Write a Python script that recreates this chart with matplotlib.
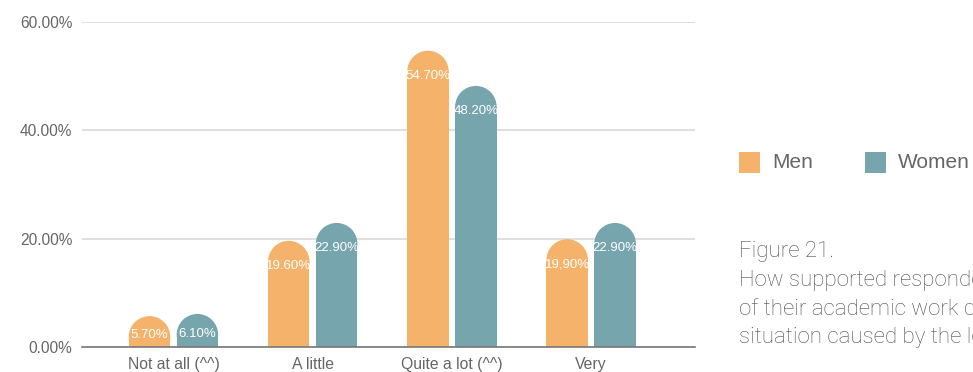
import matplotlib
matplotlib.use("Agg")
import matplotlib.pyplot as plt
from matplotlib.patches import Rectangle, Ellipse
import numpy as np

categories = ["Not at all (^^)", "A little", "Quite a lot (^^)", "Very"]
men = [5.7, 19.6, 54.7, 19.9]
women = [6.1, 22.9, 48.2, 22.9]
men_labels = ["5.70%", "19.60%", "54.70%", "19,90%"]
women_labels = ["6.10%", "22.90%", "48.20%", "22.90%"]
yticks = [0, 20, 40, 60]

C_MEN = "#F4B26A"
C_WOMEN = "#76A5AE"
GREY = "#666666"

fig = plt.figure(figsize=(9.73, 3.72), dpi=100)
ax = fig.add_axes([82 / 973, 25 / 372, 613 / 973, 325 / 372])
ax.set_xlim(-0.657, 3.746)
ax.set_ylim(0, 60)

for s in ["top", "right", "left"]:
    ax.spines[s].set_visible(False)
ax.spines["bottom"].set_color("#777777")
ax.spines["bottom"].set_linewidth(1.2)
ax.set_yticks(yticks)
ax.set_yticklabels([f"{t:.2f}%" for t in yticks], fontsize=11.2, color=GREY,
                   family="Liberation Sans")
ax.tick_params(axis="y", length=0, pad=7)
ax.tick_params(axis="x", length=0, pad=7)
ax.set_xticks(np.arange(len(categories)))
ax.set_xticklabels(categories, fontsize=11.3, color=GREY, family="Liberation Sans")
ax.yaxis.grid(True, color="#d9d9d9", linewidth=1.2)
ax.set_axisbelow(True)

# rounded-top bars: rectangle plus a half-circle cap, radius in display space
width = 0.298
off = 0.172
fig.canvas.draw()
bb = ax.get_window_extent()
px_x = bb.width / (ax.get_xlim()[1] - ax.get_xlim()[0])
px_y = bb.height / (ax.get_ylim()[1] - ax.get_ylim()[0])
r_y = (width / 2) * px_x / px_y


def rounded_bar(xc, v, color):
    ax.add_patch(Rectangle((xc - width / 2, 0), width, v - r_y,
                           facecolor=color, edgecolor="none", zorder=2))
    ax.add_patch(Ellipse((xc, v - r_y), width, 2 * r_y,
                         facecolor=color, edgecolor="none", zorder=2))


for i in range(len(categories)):
    for xc, v, lab, col in [(i - off, men[i], men_labels[i], C_MEN),
                            (i + off, women[i], women_labels[i], C_WOMEN)]:
        rounded_bar(xc, v, col)
        ly = max(v - 4.7, v * 0.38)
        ax.text(xc, ly, lab, ha="center", va="center", color="white",
                fontsize=9.5, family="Liberation Sans", zorder=3)

# legend
fig.patches.append(Rectangle((739 / 973, 1 - 173 / 372), 21 / 973, 21 / 372,
                             transform=fig.transFigure, facecolor=C_MEN,
                             edgecolor="none"))
fig.patches.append(Rectangle((865 / 973, 1 - 173 / 372), 21 / 973, 21 / 372,
                             transform=fig.transFigure, facecolor=C_WOMEN,
                             edgecolor="none"))
fig.text(772 / 973, 1 - 162 / 372, "Men", fontsize=15, color=GREY,
         family="Liberation Sans", va="center")
fig.text(898 / 973, 1 - 162 / 372, "Women", fontsize=15, color=GREY,
         family="Liberation Sans", va="center")

caption = ["Figure 21.",
           "How supported respondents felt in the conduct",
           "of their academic work during the",
           "situation caused by the lockdown"]
for k, line in enumerate(caption):
    fig.text(739 / 973, 1 - (251 + 29 * k) / 372, line, fontsize=16,
             color="#505050", family="Roboto", fontweight="light", va="center")

fig.savefig("out.png", dpi=100)
